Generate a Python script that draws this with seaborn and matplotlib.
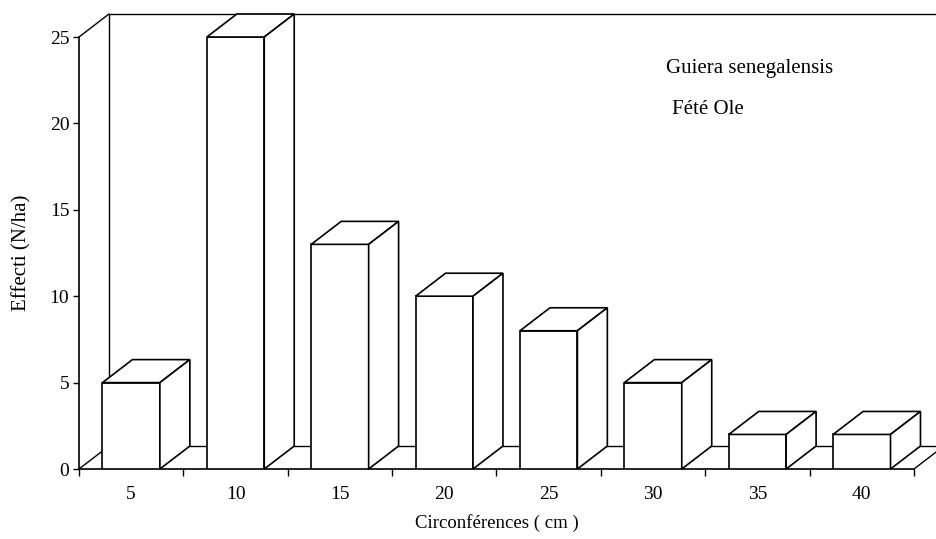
import numpy as np
import pandas as pd
import seaborn as sns
import matplotlib
matplotlib.use("Agg")
import matplotlib.pyplot as plt
from matplotlib.patches import Polygon
from matplotlib.lines import Line2D

# Stem-circumference classes (cm) and stand density (stems per hectare)
circonferences = [5, 10, 15, 20, 25, 30, 35, 40]
effectifs = [5, 25, 13, 10, 8, 5, 2, 2]
y_ticks = [0, 5, 10, 15, 20, 25]

sns.set_theme(style="white")
plt.rcParams["font.family"] = ["Liberation Serif", "DejaVu Serif"]

W, H = 937, 539
fig = plt.figure(figsize=(W / 100, H / 100), dpi=100)
ax = fig.add_axes([79 / W, 1 - 469 / H, (914 - 79) / W, (469 - 37) / H])

df = pd.DataFrame({"Circonférences": circonferences, "Effectif": effectifs})
sns.barplot(data=df, x="Circonférences", y="Effectif", color="white",
            saturation=1, edgecolor="black", linewidth=1.2, width=0.55,
            ax=ax, zorder=3)

ax.set_xlim(-0.5, 7.5)
ax.set_ylim(0, 25)

# depth of the pseudo-3D extrusion, in data units
DX, DY = 0.287, 1.33
n = len(circonferences)
ymax = 25

# back wall, left wall and floor outline
wall_kw = dict(color="black", lw=1.0, zorder=1, clip_on=False)
x_l, x_r = -0.5, n - 0.5
for xs, ys in [
    ([x_l, x_l + DX], [ymax, ymax + DY]),
    ([x_l, x_l + DX], [0, DY]),
    ([x_l + DX, x_l + DX], [DY, ymax + DY]),
    ([x_l + DX, x_r + DX + 1], [ymax + DY, ymax + DY]),
    ([x_l + DX, x_r + DX + 1], [DY, DY]),
    ([x_r, x_r + DX], [0, DY]),
]:
    ax.add_line(Line2D(xs, ys, **wall_kw))

# top and side faces of every bar
for p in ax.patches[:]:
    x0 = p.get_x()
    x1 = x0 + p.get_width()
    h = p.get_height()
    top = [(x0, h), (x0 + DX, h + DY), (x1 + DX, h + DY), (x1, h)]
    side = [(x1, 0), (x1 + DX, DY), (x1 + DX, h + DY), (x1, h)]
    for poly in (top, side):
        ax.add_patch(Polygon(poly, closed=True, facecolor="white",
                             edgecolor="black", lw=1.2, zorder=3,
                             clip_on=False, joinstyle="miter"))

for s in ("top", "right"):
    ax.spines[s].set_visible(False)
for s in ("left", "bottom"):
    ax.spines[s].set_color("black")
    ax.spines[s].set_linewidth(1.2)
    ax.spines[s].set_zorder(2)

# boundaries carry the tick marks, class centres carry the labels
ax.set_xticks(np.arange(-0.5, n, 1.0))
ax.set_xticklabels([])
ax.set_xticks(np.arange(n), minor=True)
ax.set_xticklabels([str(c) for c in circonferences], minor=True)
ax.tick_params(axis="x", which="major", direction="out", length=5,
               width=1.0, color="black", bottom=True)
ax.tick_params(axis="x", which="minor", length=0, pad=12, labelsize=14,
               labelcolor="black")

ax.set_yticks(y_ticks)
ax.set_yticklabels([str(v) for v in y_ticks])
ax.tick_params(axis="y", direction="out", length=4, width=1.0,
               color="black", left=True, labelsize=14, labelcolor="black",
               pad=3)

ax.set_xlabel("Circonférences ( cm )", fontsize=13.5, color="black")
ax.set_ylabel("Effecti (N/ha)", fontsize=15, color="black")
ax.xaxis.set_label_coords(0.5, (469 - 523) / 432)
ax.xaxis.label.set_va("center")
ax.yaxis.set_label_coords((22 - 79) / 835, 0.5)
ax.yaxis.label.set_va("center")

fig.text(666 / W, 1 - 68 / H, "Guiera senegalensis", fontsize=15,
         va="center", ha="left", color="black")
fig.text(672 / W, 1 - 110 / H, "Fété Ole", fontsize=15,
         va="center", ha="left", color="black")

fig.savefig("out.png", dpi=100, facecolor="white")
